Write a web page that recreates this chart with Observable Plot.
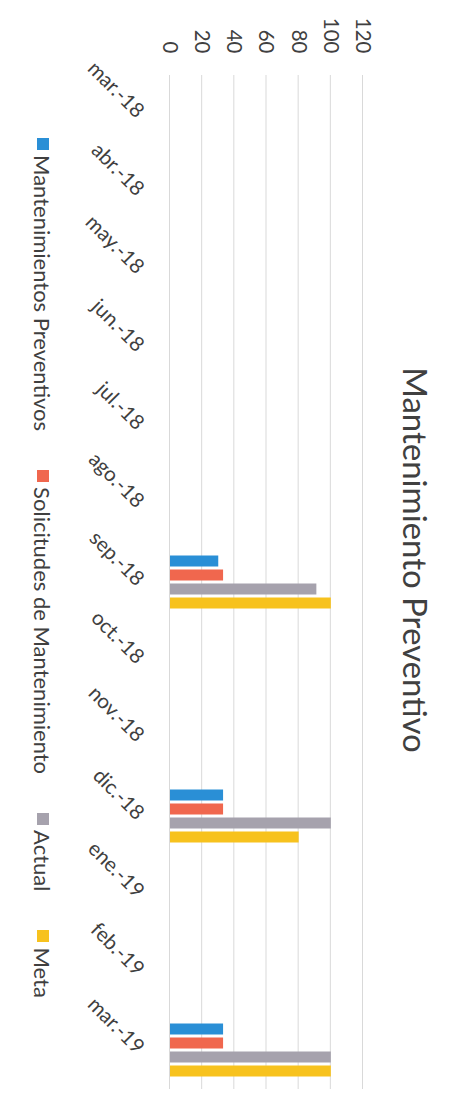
<!DOCTYPE html>
<html><head><meta charset="utf-8">
<script src="https://cdn.jsdelivr.net/npm/d3@7"></script>
<script src="https://cdn.jsdelivr.net/npm/@observablehq/plot@0.6"></script>
<style>
html,body{margin:0;padding:0;background:#fff;overflow:hidden;width:466px;height:1120px;}
#chart{position:absolute;left:0;top:0;width:1120px;height:466px;transform-origin:0 0;transform:translate(466px,0) rotate(90deg);font-family:Lato,"Open Sans",sans-serif;color:#404040;}
#title{position:absolute;left:0;top:31px;width:1120px;height:38px;line-height:38px;text-align:center;font-size:33px;}
#plot{position:absolute;left:0;top:80px;}
#legend{position:absolute;left:8px;top:409px;width:1120px;height:28px;display:flex;justify-content:center;align-items:center;gap:39px;font-size:22px;}
.item{display:flex;align-items:center;}
.sw{width:12px;height:12px;margin-right:5px;display:inline-block;}
</style></head><body>
<div id="chart"><div id="title">Mantenimiento Preventivo</div><div id="plot"></div><div id="legend"></div></div>
<script>
const months = ["mar.-18","abr.-18","may.-18","jun.-18","jul.-18","ago.-18","sep.-18","oct.-18","nov.-18","dic.-18","ene.-19","feb.-19","mar.-19"];
const mantenimientos = [null,null,null,null,null,null,30,null,null,33,null,null,33];
const solicitudes    = [null,null,null,null,null,null,33,null,null,33,null,null,33];
const actual         = [null,null,null,null,null,null,91,null,null,100,null,null,100];
const meta           = [null,null,null,null,null,null,100,null,null,80,null,null,100];
const seriesNames = ["Mantenimientos Preventivos","Solicitudes de Mantenimiento","Actual","Meta"];
const seriesColors = ["#2a8fd6","#f0674e","#a6a2ad","#f7c21e"];
const yTicks = [0,20,40,60,80,100,120];

const seriesValues = [mantenimientos, solicitudes, actual, meta];
const rows = [];
seriesValues.forEach((vals, si) => vals.forEach((v, mi) => { if (v != null) rows.push({month: months[mi], series: seriesNames[si], value: v}); }));

const plot = Plot.plot({
  width: 1120, height: 320,
  marginTop: 23, marginBottom: 104, marginLeft: 75, marginRight: 31,
  style: {fontFamily: "Lato, 'Open Sans', sans-serif", fontSize: "20.5px", color: "#404040", background: "transparent"},
  x: {domain: months, padding: 0, label: null, tickSize: 0, tickPadding: 29, tickRotate: -45},
  y: {domain: [0,120], ticks: yTicks, label: null, tickSize: 0, tickPadding: 22},
  marks: [
    Plot.gridY(yTicks, {stroke: "#d9d9d9", strokeOpacity: 1}),
    ...seriesNames.map((s, i) => Plot.barY(rows.filter(r => r.series === s), {
      x: "month", y: "value", fill: seriesColors[i],
      insetLeft: 12.5 + 14 * i, insetRight: 54.5 - 14 * i
    }))
  ]
});
document.getElementById("plot").appendChild(plot);

const legend = document.getElementById("legend");
seriesNames.forEach((s, i) => {
  const item = document.createElement("div");
  item.className = "item";
  const sw = document.createElement("span");
  sw.className = "sw"; sw.style.background = seriesColors[i];
  const t = document.createElement("span");
  t.textContent = s;
  item.appendChild(sw); item.appendChild(t);
  legend.appendChild(item);
});
</script></body></html>
